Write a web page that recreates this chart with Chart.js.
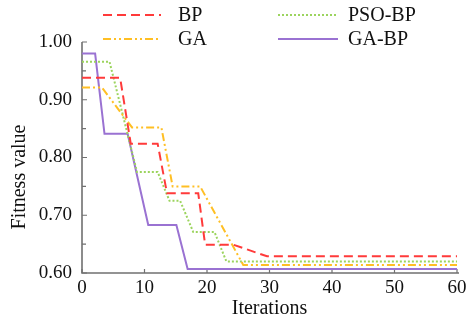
<!DOCTYPE html>
<html>
<head>
<meta charset="utf-8">
<script src="https://cdn.jsdelivr.net/npm/chart.js@4/dist/chart.umd.min.js"></script>
<style>
  body { margin: 0; background: #fff; }
  #grafico { display: block; }
</style>
</head>
<body>
<canvas id="grafico" width="466" height="324"></canvas>
<script>
// curvas de convergência (iteração x valor de aptidão)
var bpIter = [0, 6.1, 7.8, 12.1, 13.6, 18.6, 19.7, 24.2, 29.6, 60];
var bpFit = [0.938, 0.938, 0.824, 0.824, 0.738, 0.738, 0.649, 0.649, 0.629, 0.629];

var gaIter = [0, 3.2, 8.0, 12.7, 14.5, 18.9, 25.8, 60];
var gaFit = [0.921, 0.921, 0.852, 0.852, 0.750, 0.750, 0.614, 0.614];

var psoIter = [0, 4.4, 8.8, 12.1, 14.0, 15.7, 17.8, 21.2, 23.1, 60];
var psoFit = [0.966, 0.966, 0.775, 0.775, 0.725, 0.725, 0.671, 0.671, 0.620, 0.620];

var gabpIter = [0, 2.1, 3.6, 7.3, 10.6, 15.1, 16.9, 60];
var gabpFit = [0.980, 0.980, 0.841, 0.841, 0.683, 0.683, 0.607, 0.607];

var seriesNames = ['BP', 'GA', 'PSO-BP', 'GA-BP'];
var xTicks = [0, 10, 20, 30, 40, 50, 60];
var yTicks = [0.60, 0.70, 0.80, 0.90, 1.00];

var fonte = 'Liberation Serif, Times New Roman, serif';

function pontos(xs, ys) {
    return xs.map(function (x, i) { return { x: x, y: ys[i] }; });
}

var dados = {
    datasets: [{
        label: seriesNames[0],
        data: pontos(bpIter, bpFit),
        borderColor: '#ff3a3a',
        borderDash: [9, 5]
    },
    {
        label: seriesNames[1],
        data: pontos(gaIter, gaFit),
        borderColor: '#ffbf24',
        borderDash: [8, 3, 2, 3, 2, 3]
    },
    {
        label: seriesNames[2],
        data: pontos(psoIter, psoFit),
        borderColor: '#9cd45e',
        borderDash: [2, 2]
    },
    {
        label: seriesNames[3],
        data: pontos(gabpIter, gabpFit),
        borderColor: '#9a72d2',
        borderDash: []
    }]
};
dados.datasets.forEach(function (d) {
    d.borderWidth = 2;
    d.pointRadius = 0;
    d.tension = 0;
    d.fill = false;
});

// eixos, marcas internas, título vertical e legenda em duas colunas
var extras = {
    id: 'extras',
    beforeDatasetsDraw: function (chart) {
        var ctx = chart.ctx;
        var a = chart.chartArea;
        var sx = chart.scales.x, sy = chart.scales.y;
        ctx.save();
        ctx.strokeStyle = '#707070';
        ctx.lineWidth = 1.6;
        ctx.beginPath();
        ctx.moveTo(a.left, a.top);
        ctx.lineTo(a.left, a.bottom);
        ctx.lineTo(a.right + 2, a.bottom);
        ctx.stroke();
        ctx.lineWidth = 1.2;
        ctx.beginPath();
        sy.ticks.forEach(function (t) {
            var y = sy.getPixelForValue(t.value);
            var len = t.label ? 5 : 4;
            ctx.moveTo(a.left, y);
            ctx.lineTo(a.left + len, y);
        });
        xTicks.forEach(function (v) {
            var x = sx.getPixelForValue(v);
            ctx.moveTo(x, a.bottom);
            ctx.lineTo(x, a.bottom - 4);
        });
        ctx.stroke();
        ctx.restore();
    },
    afterDraw: function (chart) {
        var ctx = chart.ctx;
        ctx.save();
        ctx.fillStyle = '#111';
        ctx.font = '20px ' + fonte;
        ctx.textAlign = 'center';
        ctx.textBaseline = 'middle';
        ctx.translate(20, 177);
        ctx.rotate(-Math.PI / 2);
        ctx.fillText('Fitness value', 0, 0);
        ctx.restore();

        var cols = [{ x0: 103, x1: 161, tx: 178 }, { x0: 278, x1: 338, tx: 348 }];
        var rows = [15, 39];
        ctx.save();
        ctx.font = '20px ' + fonte;
        ctx.textBaseline = 'middle';
        ctx.textAlign = 'left';
        chart.data.datasets.forEach(function (d, i) {
            var c = cols[Math.floor(i / 2)];
            var y = rows[i % 2];
            ctx.strokeStyle = d.borderColor;
            ctx.lineWidth = 2;
            ctx.setLineDash(d.borderDash);
            ctx.beginPath();
            ctx.moveTo(c.x0, y);
            ctx.lineTo(c.x1, y);
            ctx.stroke();
            ctx.setLineDash([]);
            ctx.fillStyle = '#111';
            ctx.fillText(d.label, c.tx, y + 1);
        });
        ctx.restore();
    }
};

var options = {
    responsive: false,
    animation: false,
    layout: { padding: { top: 42, right: 9, left: 0, bottom: 0 } },
    plugins: { legend: { display: false }, tooltip: { enabled: false } },
    scales: {
        x: {
            type: 'linear',
            min: 0,
            max: 60,
            afterFit: function (s) { s.height = 51; s.paddingRight = 0; s.paddingLeft = 0; },
            afterBuildTicks: function (s) { s.ticks = xTicks.map(function (v) { return { value: v }; }); },
            grid: { display: false, drawTicks: false },
            border: { display: false },
            ticks: { color: '#111', font: { family: fonte, size: 19 }, padding: 4, maxRotation: 0 },
            title: {
                display: true,
                text: 'Iterations',
                color: '#111',
                font: { family: fonte, size: 20 },
                padding: { top: 0, bottom: 3 }
            }
        },
        y: {
            min: 0.6,
            max: 1.0,
            afterFit: function (s) { s.width = 82; },
            ticks: {
                stepSize: 0.05,
                color: '#111',
                font: { family: fonte, size: 19 },
                padding: 10,
                callback: function (v) {
                    var hit = yTicks.some(function (t) { return Math.abs(t - v) < 1e-6; });
                    return hit ? v.toFixed(2) : '';
                }
            },
            grid: { display: false, drawTicks: false },
            border: { display: false }
        }
    }
};

var ctx = document.querySelector('#grafico').getContext('2d');
var lineChart = new Chart(ctx, {
    type: 'line',
    data: dados,
    options: options,
    plugins: [extras]
});
</script>
</body>
</html>
